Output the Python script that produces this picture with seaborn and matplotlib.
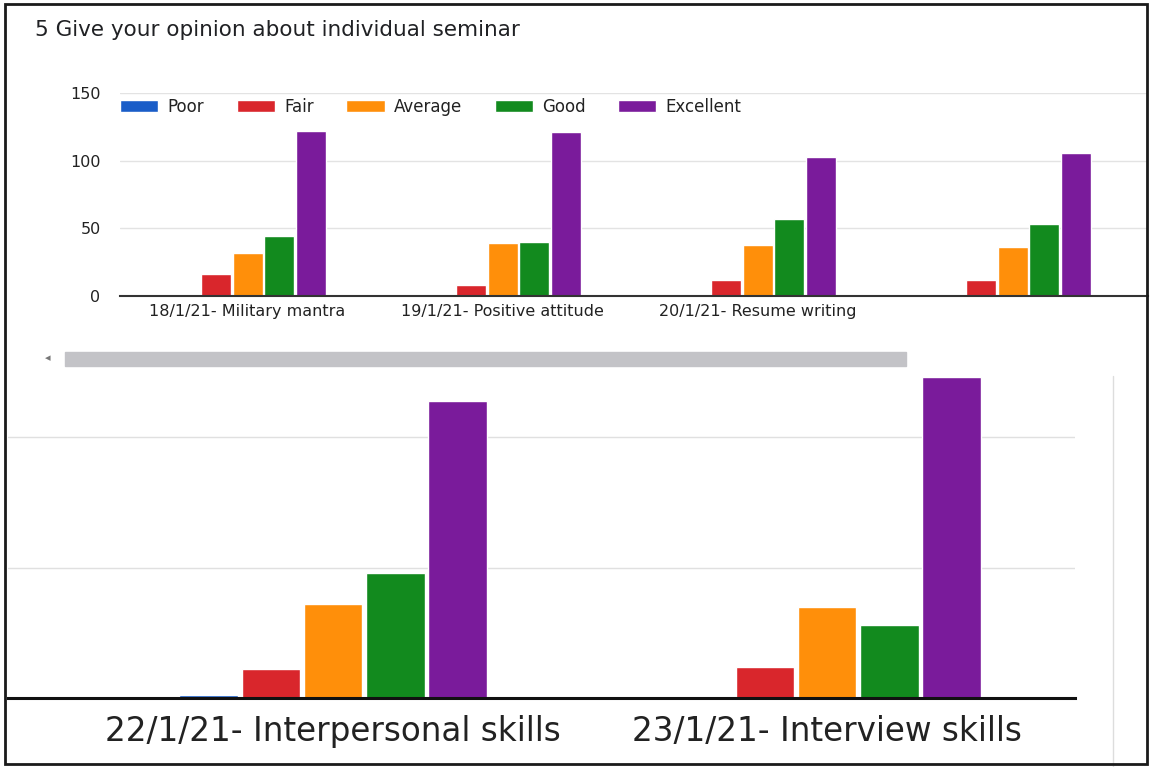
import pandas as pd
import seaborn as sns
import matplotlib.pyplot as plt
from matplotlib.patches import Rectangle
from matplotlib.lines import Line2D

# Ratings (legend order)
ratings = ['Poor', 'Fair', 'Average', 'Good', 'Excellent']
colors = ['#1a5dc8', '#d9262c', '#ff8f0a', '#128a1e', '#7a1b9b']

# Upper chart - first four seminars (the 4th label is cut off in the scan)
top_seminars = ['18/1/21- Military mantra', '19/1/21- Positive attitude',
                '20/1/21- Resume writing', '']
top_poor = [0, 0, 0, 1]
top_fair = [16, 8, 12, 12]
top_average = [32, 39, 38, 36]
top_good = [44, 40, 57, 53]
top_excellent = [122, 121, 103, 106]

# Lower chart - scrolled part
bottom_seminars = ['22/1/21- Interpersonal skills', '23/1/21- Interview skills']
bottom_poor = [1, 0]
bottom_fair = [11, 12]
bottom_average = [36, 35]
bottom_good = [48, 28]
bottom_excellent = [114, 123]


def to_long(seminars, *series):
    rows = []
    for rating, vals in zip(ratings, series):
        for s, v in zip(seminars, vals):
            rows.append({'seminar': s, 'rating': rating, 'count': v})
    return pd.DataFrame(rows)


top_df = to_long(top_seminars, top_poor, top_fair, top_average, top_good, top_excellent)
bottom_df = to_long(bottom_seminars, bottom_poor, bottom_fair, bottom_average,
                    bottom_good, bottom_excellent)

sns.set_theme(style='white')
plt.rcParams['font.family'] = ['DejaVu Sans']
palette = dict(zip(ratings, colors))

W, H = 1150, 767
fig = plt.figure(figsize=(W / 100, H / 100), dpi=100)


def box(x0, y0, x1, y1):
    # pixel box (top-left origin) -> figure fraction rect
    return [x0 / W, 1 - y1 / H, (x1 - x0) / W, (y1 - y0) / H]


# ---- upper chart ----
ax1 = fig.add_axes(box(120, 93, 1148, 296))
sns.barplot(data=top_df, x='seminar', y='count', hue='rating',
            order=top_seminars, hue_order=ratings, palette=palette,
            width=0.62, gap=0.05, saturation=1, ax=ax1)
ax1.set_xlim(-0.5, 3.53)
ax1.set_ylim(0, 150)
ax1.set_yticks([0, 50, 100, 150])
ax1.yaxis.grid(True, color='#e3e3e3', linewidth=1)
ax1.set_axisbelow(True)
for side in ['top', 'right', 'left']:
    ax1.spines[side].set_visible(False)
ax1.spines['bottom'].set_color('#333333')
ax1.spines['bottom'].set_linewidth(1.5)
ax1.tick_params(axis='y', length=0, pad=14, labelsize=11.5, labelcolor='#222222')
ax1.tick_params(axis='x', length=0, pad=6, labelsize=11.5, labelcolor='#222222')
ax1.set_xlabel('')
ax1.set_ylabel('')
ax1.legend(loc='center left', bbox_to_anchor=(0, 0.931), ncol=5, frameon=False,
           fontsize=12, handlelength=2.3, handleheight=0.75, handletextpad=0.55,
           columnspacing=1.95, borderpad=0, borderaxespad=0, labelcolor='#222222')

fig.text(35 / W, 1 - 30 / H, '5 Give your opinion about individual seminar',
         fontsize=15.5, color='#202124', va='center', ha='left')

# ---- lower chart ----
ax2 = fig.add_axes(box(8, 372, 1075, 698))
sns.barplot(data=bottom_df, x='seminar', y='count', hue='rating',
            order=bottom_seminars, hue_order=ratings, palette=palette,
            width=0.63, gap=0.06, saturation=1, legend=False, ax=ax2)
ax2.set_xlim(-0.658, 1.502)
ax2.set_ylim(0, 125)
ax2.set_yticks([0, 50, 100])
ax2.yaxis.grid(True, color='#e0e0e0', linewidth=1)
ax2.set_axisbelow(True)
ax2.set_yticklabels([])
for side in ['top', 'right', 'left']:
    ax2.spines[side].set_visible(False)
ax2.spines['bottom'].set_color('#111111')
ax2.spines['bottom'].set_linewidth(2.2)
ax2.tick_params(axis='y', length=0)
ax2.tick_params(axis='x', length=0, pad=12, labelsize=23.5, labelcolor='#222222')
ax2.set_xlabel('')
ax2.set_ylabel('')

# scrollbar between the two screenshots
fig.patches.append(Rectangle((65 / W, 1 - 366 / H), (906 - 65) / W, 14 / H,
                             transform=fig.transFigure, color='#c3c3c7', zorder=5))
fig.text(48 / W, 1 - 358 / H, '◂', fontsize=8, color='#777777', ha='center', va='center')

# thin separator right of lower chart
fig.lines.append(Line2D([1113 / W, 1113 / W], [0, 1 - 376 / H],
                        transform=fig.transFigure, color='#dddddd', linewidth=1))

# black frame of the scanned page
fig.patches.append(Rectangle((5 / W, 1 - 764 / H), (1147 - 5) / W, (764 - 4) / H,
                             transform=fig.transFigure, fill=False,
                             edgecolor='#1a1a1a', linewidth=2, zorder=10))

fig.savefig('out.png', dpi=100)
